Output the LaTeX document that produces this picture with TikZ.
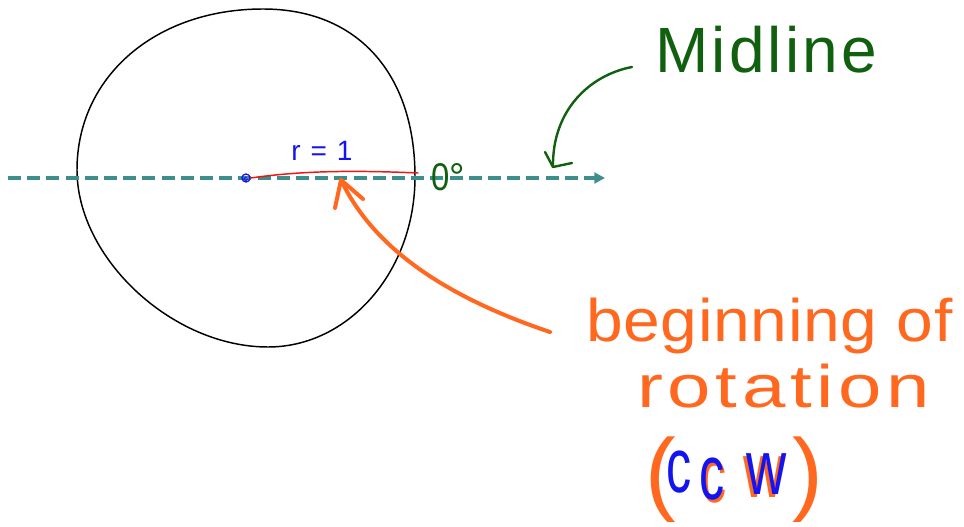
\documentclass[tikz,border=0pt]{standalone}
\usepackage{fontspec}
\setmainfont{Liberation Sans}
\usetikzlibrary{arrows.meta}
\definecolor{tealA}{RGB}{61,143,139}
\definecolor{greenA}{RGB}{16,96,16}
\definecolor{orangeA}{RGB}{255,104,30}
\definecolor{blueA}{RGB}{20,20,240}
\definecolor{redA}{RGB}{240,20,20}
\tikzset{
  hand/.style={line cap=round, line join=round},
  lbl/.style={inner sep=0pt, anchor=base west},
}
\newcommand{\fsz}[1]{\fontsize{#1}{#1}\selectfont}
\newcommand{\putg}[4]{\rlap{\hspace{#1}\raisebox{#2}{\textcolor{#3}{#4}}}}
\newcommand{\gc}{\fontsize{58pt}{58pt}\selectfont\scalebox{0.65}[1]{c}}
\newcommand{\gw}{\fontsize{58pt}{58pt}\selectfont\scalebox{0.72}[1]{w}}
\newcommand{\gp}[1]{\fontsize{69pt}{69pt}\selectfont #1}
\begin{document}
\begin{tikzpicture}[x=0.75pt,y=-0.75pt]
\useasboundingbox (0,0) rectangle (964,527);
\fill[white] (0,0) rectangle (964,527);

% circle
\coordinate (cT) at (263,9);
\coordinate (cR) at (415,177);
\coordinate (cB) at (268,347);
\coordinate (cL) at (77,170);
\draw[black, line width=1.1pt, hand]
  (cT) .. controls (357,9) and (415,73) .. (cR)
       .. controls (415,271) and (349,347) .. (cB)
       .. controls (172,347) and (77,258) .. (cL)
       .. controls (77,77) and (155,9) .. (cT) -- cycle;

% midline
\coordinate (mlA) at (8,178);
\coordinate (mlB) at (605,178);
\draw[tealA, line width=3.3pt, dash pattern=on 9.8pt off 4.6pt,
      -{Triangle[length=8pt,width=8pt]}] (mlA) -- (mlB);

% centre and radius
\node[circle, draw=blueA, line width=1pt, inner sep=0pt, minimum size=6pt] (O) at (246,178) {};
\draw[blueA, line width=0.8pt] (O.center) ++(1.5,1) arc (0:300:1.8);
\coordinate (P) at (418,173);
\draw[redA, line width=1.1pt, hand] (O.east) .. controls (300,171) and (350,170) .. (P);

\node[lbl, text=blueA, font=\fsz{21pt}\addfontfeature{LetterSpace=8}] (r) at (291,161) {r = 1};
\node[lbl, text=greenA, font=\fsz{29pt}] (deg) at (431,191) {\scalebox{0.85}[1]{0}°};

% Midline label and arrow
\node[lbl, text=greenA, font=\fsz{48pt}\addfontfeature{LetterSpace=5}] (mid) at (655,73) {Midline};
\coordinate (gS) at (632,67);
\coordinate (gT) at (553,167);
\draw[greenA, line width=1.8pt, hand] (gS) .. controls (590,75) and (552,110) .. (gT);
\draw[greenA, line width=1.8pt, hand] (545,152) -- (gT) -- (572,163);

% orange arrow
\coordinate (oS) at (550,332);
\coordinate (oT) at (341,180);
\draw[orangeA, line width=3pt, hand] (oS) .. controls (440,295) and (372,245) .. (oT);
\draw[orangeA, line width=3pt, hand] (335,208) -- (oT) -- (363,199);

% orange text
\node[lbl, text=orangeA, font=\fsz{45pt}] (beg) at (586,342) {\scalebox{1.1}[1]{\addfontfeature{LetterSpace=1}beginning of}};
\node[lbl, text=orangeA, font=\fsz{45pt}] (rot) at (637,407) {\scalebox{1.3}[1]{\addfontfeature{LetterSpace=6}rotation}};

% (ccw)
\node[lbl] (ccw) at (645,503) {%
  \putg{0pt}{0pt}{orangeA}{\gp{(}}%
  \putg{15.75pt}{8.25pt}{blueA}{\gc}%
  \putg{42pt}{0.75pt}{orangeA}{\gc}%
  \putg{40.5pt}{3pt}{blueA}{\gc}%
  \putg{73.5pt}{4.5pt}{orangeA}{\gw}%
  \putg{75.75pt}{6.75pt}{blueA}{\gw}%
  \putg{110pt}{0pt}{orangeA}{\gp{)}}%
  \hspace{128pt}};
\end{tikzpicture}
\end{document}
